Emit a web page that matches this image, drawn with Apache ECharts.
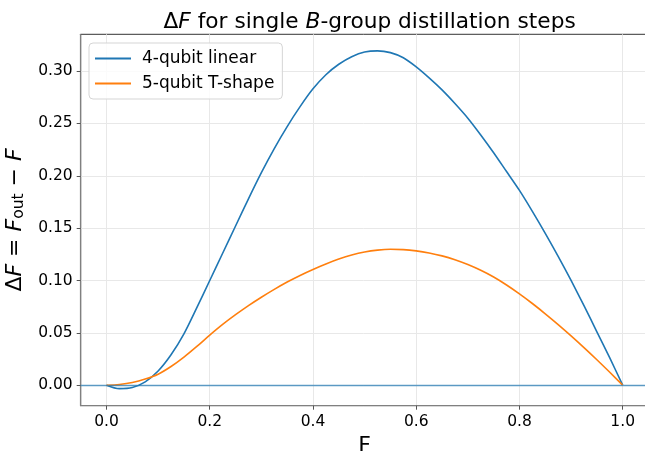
<!DOCTYPE html>
<html>
<head>
<meta charset="utf-8">
<script src="https://cdn.jsdelivr.net/npm/echarts@6/dist/echarts.min.js"></script>
<style>html,body{margin:0;padding:0;background:#fff}#c{width:645px;height:451px}</style>
</head>
<body>
<div id="c"></div>
<script>
const fGrid = [0, 0.025, 0.05, 0.075, 0.1, 0.125, 0.15, 0.175, 0.2, 0.225, 0.25, 0.275, 0.3, 0.325, 0.35, 0.375, 0.4, 0.425, 0.45, 0.475, 0.5, 0.525, 0.55, 0.575, 0.6, 0.625, 0.65, 0.675, 0.7, 0.725, 0.75, 0.775, 0.8, 0.825, 0.85, 0.875, 0.9, 0.925, 0.95, 0.975, 1.0];
const linear4 = [0, -0.0033, -0.0022, 0.0032, 0.0135, 0.029, 0.049, 0.074, 0.100, 0.126, 0.152, 0.178, 0.203, 0.226, 0.247, 0.266, 0.283, 0.2965, 0.3065, 0.3137, 0.3182, 0.3193, 0.3176, 0.3127, 0.3040, 0.2935, 0.2820, 0.2690, 0.255, 0.239, 0.222, 0.204, 0.186, 0.166, 0.145, 0.123, 0.100, 0.076, 0.051, 0.026, 0];
const tshape5 = [0, 0.0007, 0.0025, 0.0058, 0.0105, 0.0178, 0.0268, 0.0370, 0.0478, 0.0580, 0.0673, 0.0760, 0.0840, 0.0915, 0.0985, 0.1048, 0.1105, 0.1157, 0.1204, 0.1243, 0.1272, 0.1290, 0.1298, 0.1295, 0.1283, 0.1263, 0.1235, 0.1198, 0.1152, 0.1097, 0.1033, 0.0957, 0.0872, 0.0780, 0.0682, 0.0579, 0.0471, 0.0359, 0.0243, 0.0123, 0];
const xTicks = [0, 0.2, 0.4, 0.6, 0.8, 1.0];
const yTicks = [0, 0.05, 0.10, 0.15, 0.20, 0.25, 0.30];
const names = ['4-qubit linear', '5-qubit T-shape'];

const font = 'DejaVu Sans';
const chart = echarts.init(document.getElementById('c'), null, {renderer: 'canvas'});
chart.setOption({
  animation: false,
  backgroundColor: '#fff',
  textStyle: {fontFamily: font},
  title: {
    text: '{d|Δ}{i|F}{d| for single }{i|B}{d|-group distillation steps}',
    left: 364.6, top: 6, textAlign: 'center',
    textStyle: {
      fontWeight: 'normal',
      rich: {
        d: {fontFamily: font, fontSize: 21.7, fontWeight: 'normal', color: '#000'},
        i: {fontFamily: font, fontSize: 21.7, fontWeight: 'normal', fontStyle: 'italic', color: '#000'}
      }
    }
  },
  legend: {
    left: 89, top: 43, orient: 'vertical',
    itemWidth: 36, itemHeight: 2, itemGap: 8,
    icon: 'rect',
    padding: [7, 8, 7, 6],
    backgroundColor: 'rgba(255,255,255,0.8)',
    borderColor: '#d5d5d5', borderWidth: 1, borderRadius: 4,
    textStyle: {fontFamily: font, fontSize: 17, color: '#000', padding: [0, 0, 0, 6]},
    data: names
  },
  grid: {left: 80.7, top: 34.3, width: 567.8, height: 371.4, show: true, borderColor: '#333', borderWidth: 1, containLabel: false, outerBoundsMode: 'none'},
  xAxis: {
    type: 'value', min: -0.05, max: 1.05,
    name: 'F', nameLocation: 'middle', nameGap: 30,
    nameTextStyle: {fontFamily: font, fontSize: 22, color: '#000'},
    axisLine: {show: true, onZero: false, lineStyle: {color: '#808080', width: 1.2}},
    axisTick: {show: true, length: 4, customValues: xTicks, lineStyle: {color: '#555'}},
    axisLabel: {customValues: xTicks, fontFamily: font, fontSize: 15.5, color: '#000', margin: 8,
      formatter: v => v.toFixed(1)},
    splitLine: {show: true, lineStyle: {color: '#e8e8e8', width: 1}}
  },
  yAxis: {
    type: 'value', min: -0.0196, max: 0.3351,
    name: '{d|Δ}{i|F}{d| = }{i|F}{s|out}{d| − }{i|F}',
    nameLocation: 'middle', nameGap: 50, nameRotate: 90,
    nameTextStyle: {
      rich: {
        d: {fontFamily: font, fontSize: 22, color: '#000'},
        i: {fontFamily: font, fontSize: 22, fontStyle: 'italic', color: '#000'},
        s: {fontFamily: font, fontSize: 15.5, color: '#000', verticalAlign: 'bottom', padding: [9, 0, 0, 0]}
      }
    },
    axisLine: {show: true, onZero: false, lineStyle: {color: '#808080', width: 1.2}},
    axisTick: {show: true, length: 4, customValues: yTicks, lineStyle: {color: '#555'}},
    axisLabel: {customValues: yTicks, fontFamily: font, fontSize: 15.5, color: '#000', margin: 8,
      formatter: v => v.toFixed(2)},
    splitLine: {show: true, lineStyle: {color: '#e8e8e8', width: 1}}
  },
  series: [
    {
      name: names[0], type: 'line', smooth: 0.3, showSymbol: false, symbol: 'none',
      data: fGrid.map((f, i) => [f, linear4[i]]),
      lineStyle: {color: '#1f77b4', width: 1.6}, itemStyle: {color: '#1f77b4'},
      markLine: {
        silent: true, symbol: 'none', label: {show: false},
        lineStyle: {color: 'rgba(31,119,180,0.7)', width: 1.3, type: 'solid'},
        data: [{yAxis: 0}]
      },
      z: 3
    },
    {
      name: names[1], type: 'line', smooth: 0.3, showSymbol: false, symbol: 'none',
      data: fGrid.map((f, i) => [f, tshape5[i]]),
      lineStyle: {color: '#ff7f0e', width: 1.6}, itemStyle: {color: '#ff7f0e'},
      z: 3
    }
  ]
});
</script>
</body>
</html>
